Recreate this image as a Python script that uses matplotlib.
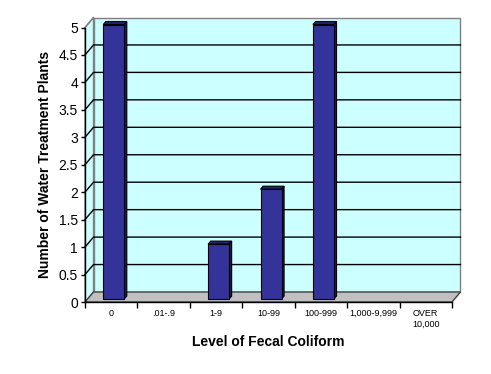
import matplotlib
matplotlib.use("Agg")
import matplotlib.pyplot as plt
from matplotlib.patches import Polygon, Rectangle

categories = ["0", ".01-.9", "1-9", "10-99", "100-999", "1,000-9,999", "OVER\n10,000"]
values = [5, 0, 1, 2, 5, 0, 0]
yticks = [0, 0.5, 1, 1.5, 2, 2.5, 3, 3.5, 4, 4.5, 5]
ytick_labels = ["0", "0.5", "1", "1.5", "2", "2.5", "3", "3.5", "4", "4.5", "5"]

plt.rcParams['font.family'] = ['Liberation Sans', 'DejaVu Sans']

W, H = 491, 374
fig = plt.figure(figsize=(W / 100, H / 100), dpi=100)
L, R, B, T = 85, 452, 302, 27.5
ax = fig.add_axes([L / W, (H - B) / H, (R - L) / W, (B - T) / H])

n = len(categories)
x0, x1 = -0.5, n - 0.5
ymax = 5
ax.set_xlim(x0, x1)
ax.set_ylim(0, ymax)
ax.patch.set_visible(False)

# depth offsets in data units
px_x = (x1 - x0) / (R - L)
px_y = ymax / (B - T)
dx, dy = 8.5 * px_x, 10 * px_y

wall_col = "#CCFFFF"
edge_gray = "#808080"

# back wall
ax.add_patch(Rectangle((x0 + dx, dy), x1 - x0, ymax, facecolor=wall_col,
                       edgecolor=edge_gray, lw=1, clip_on=False, zorder=0.5))
# left wall
ax.add_patch(Polygon([(x0, 0), (x0 + dx, dy), (x0 + dx, ymax + dy), (x0, ymax)],
                     closed=True, facecolor=wall_col, edgecolor=edge_gray, lw=1,
                     clip_on=False, zorder=0.5))
# floor
ax.add_patch(Polygon([(x0, 0), (x1, 0), (x1 + dx, dy), (x0 + dx, dy)],
                     closed=True, facecolor="#C0C0C0", edgecolor="#404040", lw=1,
                     clip_on=False, zorder=0.6))
# gridlines
for v in yticks[1:-1]:
    ax.plot([x0, x0 + dx, x1 + dx], [v, v + dy, v + dy], color="black", lw=1,
            clip_on=False, zorder=0.7)
ax.plot([x0, x0 + dx], [ymax, ymax + dy], color=edge_gray, lw=1, clip_on=False, zorder=0.7)

# bars
bw = 0.40
f0, f1 = 0.3, 0.6
front_c, top_c, side_c = "#333399", "#24246E", "#1B1B55"
for i, v in enumerate(values):
    if v <= 0:
        continue
    xl = i - bw / 2 + f0 * dx
    xr = i + bw / 2 + f0 * dx
    yb = f0 * dy
    yt = v + f0 * dy
    ddx, ddy = (f1 - f0) * dx, (f1 - f0) * dy
    ax.add_patch(Polygon([(xl, yt), (xr, yt), (xr + ddx, yt + ddy), (xl + ddx, yt + ddy)],
                         closed=True, facecolor=top_c, edgecolor="black", lw=0.8,
                         clip_on=False, zorder=3))
    ax.add_patch(Polygon([(xr, yb), (xr + ddx, yb + ddy), (xr + ddx, yt + ddy), (xr, yt)],
                         closed=True, facecolor=side_c, edgecolor="black", lw=0.8,
                         clip_on=False, zorder=3))
    ax.add_patch(Rectangle((xl, yb), bw, v, facecolor=front_c, edgecolor="black",
                           lw=0.8, clip_on=False, zorder=3.1))

# axes
for s in ["top", "right"]:
    ax.spines[s].set_visible(False)
for s in ["left", "bottom"]:
    ax.spines[s].set_color("black")
    ax.spines[s].set_linewidth(1)
    ax.spines[s].set_zorder(4)

ax.set_yticks(yticks)
ax.set_yticklabels(ytick_labels, fontsize=10)
ax.tick_params(axis="y", direction="out", length=3, width=1, pad=2)

ax.set_xticks([x0 + k for k in range(n + 1)])
ax.set_xticklabels([""] * (n + 1))
ax.tick_params(axis="x", which="major", direction="out", length=4, width=1)
ax.set_xticks(list(range(n)), minor=True)
ax.set_xticklabels(categories, minor=True, fontsize=6.5, linespacing=1.3)
ax.tick_params(axis="x", which="minor", length=0, pad=5)

ax.set_xlabel("Level of Fecal Coliform", fontsize=10, fontweight="bold", labelpad=4)
ax.set_ylabel("Number of Water Treatment Plants", fontsize=10, fontweight="bold", labelpad=5)

fig.savefig("out.png", dpi=100, facecolor="white")
